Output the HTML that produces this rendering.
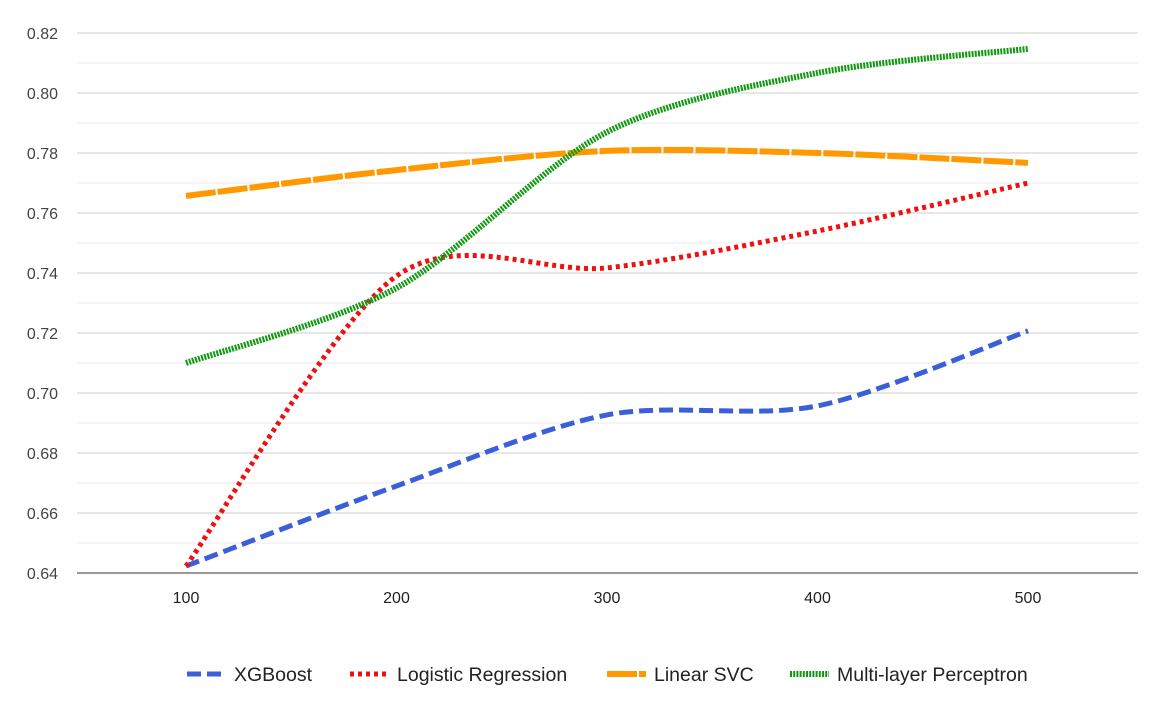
<!DOCTYPE html>
<html><head><meta charset="utf-8">
<style>
html,body{margin:0;padding:0;background:#fff;}
svg{display:block;font-family:"Liberation Sans",Arial,sans-serif;}
</style></head>
<body>
<svg id="chart" width="1176" height="706"></svg>
<script>
const categories = [100, 200, 300, 400, 500];
const xgboost = [0.6423, 0.669, 0.6927, 0.6957, 0.7207];
const logistic = [0.6423, 0.739, 0.7417, 0.754, 0.770];
const linearSvc = [0.7657, 0.7743, 0.7807, 0.780, 0.7767];
const mlp = [0.710, 0.735, 0.787, 0.8067, 0.8147];
const yTicks = [0.64, 0.66, 0.68, 0.70, 0.72, 0.74, 0.76, 0.78, 0.80, 0.82];
const seriesNames = ["XGBoost", "Logistic Regression", "Linear SVC", "Multi-layer Perceptron"];

const NS = "http://www.w3.org/2000/svg";
const svg = document.getElementById("chart");
function mk(tag, attrs, parent) {
  const e = document.createElementNS(NS, tag);
  for (const k in attrs) e.setAttribute(k, attrs[k]);
  (parent || svg).appendChild(e);
  return e;
}
const X0 = 77, X1 = 1138;
function xs(v) { return 186 + (v - 100) * (1028 - 186) / 400; }
function ys(v) { return 573 - (v - 0.64) * 3000; }

const grid = mk("g", {});


for (let i = 0; i < yTicks.length - 1; i++) {
  const mid = (yTicks[i] + yTicks[i + 1]) / 2;
  mk("line", {x1: X0, x2: X1, y1: ys(mid), y2: ys(mid), stroke: "#ebebeb", "stroke-width": 1}, grid);
}
yTicks.forEach((t, i) => {
  mk("line", {x1: X0, x2: X1, y1: ys(t), y2: ys(t), stroke: i === 0 ? "#333" : "#cccccc", "stroke-width": 1}, grid);
  const lbl = mk("text", {x: 58, y: ys(t) + 6, "text-anchor": "end", "font-size": 16, fill: "#444"});
  lbl.textContent = t.toFixed(2);
  
  
});
categories.forEach(c => {
  const lbl = mk("text", {x: xs(c), y: 603, "text-anchor": "middle", "font-size": 16, fill: "#222"});
  lbl.textContent = c;
  
  
});

function smoothPath(vals) {
  const p = vals.map((v, i) => [xs(categories[i]), ys(v)]);
  let d = "M" + p[0][0] + "," + p[0][1];
  const t = 1 / 6 * 0.9;
  for (let i = 0; i < p.length - 1; i++) {
    const p0 = p[Math.max(0, i - 1)], p1 = p[i], p2 = p[i + 1], p3 = p[Math.min(p.length - 1, i + 2)];
    const c1 = [p1[0] + (p2[0] - p0[0]) * t, p1[1] + (p2[1] - p0[1]) * t];
    const c2 = [p2[0] - (p3[0] - p1[0]) * t, p2[1] - (p3[1] - p1[1]) * t];
    d += " C" + c1 + " " + c2 + " " + p2;
  }
  return d;
}
const styles = [
  {color: "#3a5fd9", w: 5, dash: "14 6"},
  {color: "#ee1111", w: 5, dash: "4 4"},
  {color: "#ff9900", w: 6, dash: "30 2"},
  {color: "#119911", w: 6, dash: "2 1.2"}
];
const data = [xgboost, logistic, linearSvc, mlp];
const lineNames = ["line-xgboost", "line-logistic-regression", "line-linear-svc", "line-mlp"];
data.forEach((vals, i) => {
  const path = mk("path", {d: smoothPath(vals), fill: "none", stroke: styles[i].color, "stroke-width": styles[i].w, "stroke-dasharray": styles[i].dash});
  
  
});

const legText = [234, 397, 654, 837];
const legend = mk("g", {});


seriesNames.forEach((n, i) => {
  const g = mk("g", {}, legend);
  
  
  mk("line", {x1: legText[i] - 47, x2: legText[i] - 8, y1: 674, y2: 674, stroke: styles[i].color, "stroke-width": styles[i].w, "stroke-dasharray": styles[i].dash}, g);
  const tx = mk("text", {x: legText[i], y: 681, "font-size": 19.5, fill: "#222"}, g);
  tx.textContent = n;
});
</script>
</body></html>
